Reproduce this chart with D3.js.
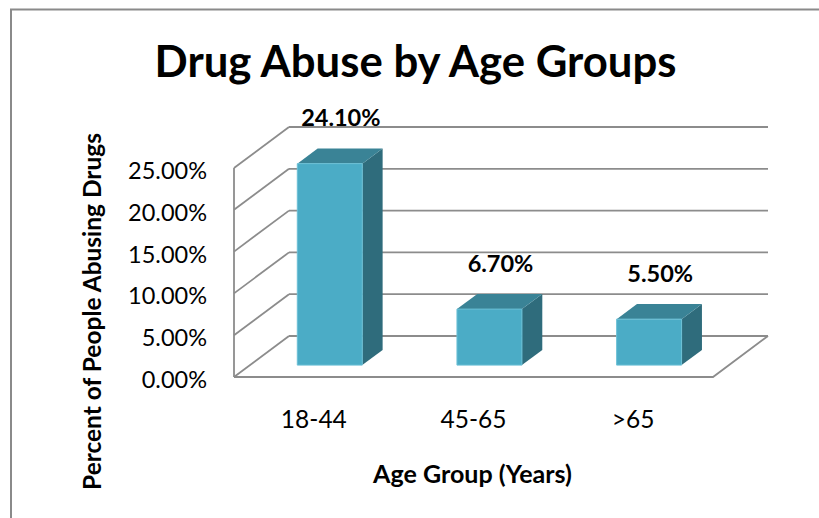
<!DOCTYPE html>
<html>
<head>
<meta charset="utf-8">
<script src="https://cdn.jsdelivr.net/npm/d3@7"></script>
<style>
  html, body { margin: 0; padding: 0; background: #fff; }
  svg { display: block; }
  text { font-family: Lato, "Open Sans", sans-serif; fill: #000; }
</style>
</head>
<body>
<svg id="chart" width="819" height="518"></svg>
<script>
// Chart data
const categories = ["18-44", "45-65", ">65"];
const values = [24.10, 6.70, 5.50];
const yTicks = [0, 5, 10, 15, 20, 25];
const titleText = "Drug Abuse by Age Groups";
const xTitle = "Age Group (Years)";
const yTitle = "Percent of People Abusing Drugs";

const svg = d3.select("#chart");

// Outer chart border (runs off the right and bottom edges)
svg.append("rect")
  .attr("x", 11).attr("y", 9.5)
  .attr("width", 840).attr("height", 540)
  .attr("fill", "none").attr("stroke", "#8a8a8a").attr("stroke-width", 2);

// 3D projection: front plane + depth offset
const floorLeft = 234, floorRight = 713;
const DX = 55, DY = -41;           // full depth offset of the box
const f0 = 0.29, f1 = 0.66;        // bar front/back depth fractions

const y = d3.scaleLinear().domain([0, 25]).range([377, 168]);
const x = d3.scaleBand().domain(categories).range([floorLeft, floorRight]).padding(0);
const barW = x.bandwidth() * 0.407;

const proj = (px, v, f) => [px + DX * f, y(v) + DY * f];
const pts = arr => arr.map(p => p.join(",")).join(" ");

const gridColor = "#8c8c8c";
const grid = svg.append("g").attr("stroke", gridColor).attr("stroke-width", 1.8).attr("fill", "none");

// Back wall gridlines
grid.selectAll("line.back").data(yTicks).join("line")
  .attr("class", "back")
  .attr("x1", floorLeft + DX).attr("x2", floorRight + DX)
  .attr("y1", d => y(d) + DY).attr("y2", d => y(d) + DY);

// Side wall gridlines
grid.selectAll("line.side").data(yTicks).join("line")
  .attr("class", "side")
  .attr("x1", floorLeft).attr("x2", floorLeft + DX)
  .attr("y1", d => y(d)).attr("y2", d => y(d) + DY);

// Floor front and right edges
grid.append("polyline")
  .attr("points", pts([proj(floorLeft, 0, 0), proj(floorRight, 0, 0), proj(floorRight, 0, 1)]));

// Vertical value axis line (front-left edge)
grid.append("line")
  .attr("x1", floorLeft).attr("x2", floorLeft)
  .attr("y1", y(25)).attr("y2", y(0));

// Bars
const colFront = "#4bacc6", colTop = "#3a8396", colSide = "#2f6c7c";
const bars = svg.append("g").selectAll("g").data(values).join("g");

bars.each(function(v, i) {
  const g = d3.select(this);
  const x0 = x(categories[i]) + (x.bandwidth() - barW) / 2;
  const x1 = x0 + barW;
  g.append("polygon")
    .attr("points", pts([proj(x1, 0, f0), proj(x1, 0, f1), proj(x1, v, f1), proj(x1, v, f0)]))
    .attr("fill", colSide);
  g.append("polygon")
    .attr("points", pts([proj(x0, v, f0), proj(x1, v, f0), proj(x1, v, f1), proj(x0, v, f1)]))
    .attr("fill", colTop);
  g.append("polygon")
    .attr("points", pts([proj(x0, 0, f0), proj(x1, 0, f0), proj(x1, v, f0), proj(x0, v, f0)]))
    .attr("fill", colFront).attr("stroke", "#6cc0d6").attr("stroke-width", 1);
});

// Value labels above bars
svg.append("g").selectAll("text").data(values).join("text")
  .attr("x", (d, i) => x(categories[i]) + x.bandwidth() / 2 + 27)
  .attr("y", d => y(d) + DY * f1 - 22)
  .attr("text-anchor", "middle")
  .attr("font-size", 23.5).attr("font-weight", 700)
  .text(d => d3.format(".2f")(d) + "%");

// Value axis labels
const yAxis = svg.append("g")
  .attr("transform", `translate(${floorLeft},0)`)
  .call(d3.axisLeft(y).tickValues(yTicks).tickSize(0).tickPadding(27)
    .tickFormat(d => d3.format(".2f")(d) + "%"));
yAxis.select(".domain").remove();
yAxis.selectAll("text")
  .attr("font-family", "Lato, sans-serif").attr("font-size", 23.5).attr("fill", "#000")
  .attr("dy", "0.45em");

// Category axis labels
const xAxis = svg.append("g")
  .attr("transform", `translate(0,${y(0)})`)
  .call(d3.axisBottom(x).tickSize(0).tickPadding(34));
xAxis.select(".domain").remove();
xAxis.selectAll("text")
  .attr("font-family", "Lato, sans-serif").attr("font-size", 24.5).attr("fill", "#000");

// Fit a text element to a target width
function fit(sel, width) {
  const node = sel.node();
  const size = +sel.attr("font-size");
  const w = node.getComputedTextLength();
  sel.attr("font-size", size * width / w);
}

// Chart title
const title = svg.append("text")
  .attr("x", 415.5).attr("y", 77)
  .attr("text-anchor", "middle")
  .attr("font-size", 44).attr("font-weight", 700)
  .text(titleText);
fit(title, 522);

// Axis titles
const xt = svg.append("text")
  .attr("x", 472.5).attr("y", 483)
  .attr("text-anchor", "middle")
  .attr("font-size", 22).attr("font-weight", 700)
  .text(xTitle);
fit(xt, 199);

const yt = svg.append("text")
  .attr("transform", "translate(101,311.5) rotate(-90)")
  .attr("text-anchor", "middle")
  .attr("font-size", 22).attr("font-weight", 700)
  .text(yTitle);
fit(yt, 357);
</script>
</body>
</html>
